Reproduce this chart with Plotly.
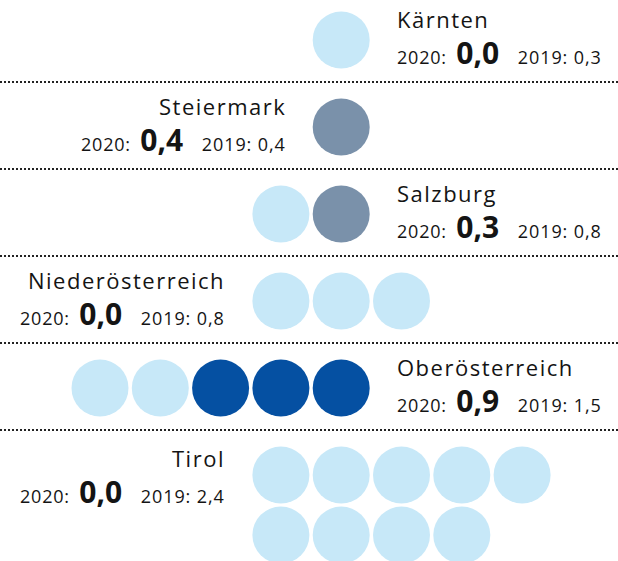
import plotly.graph_objects as go

# Regions and their rates
regions = ["Kärnten", "Steiermark", "Salzburg", "Niederösterreich", "Oberösterreich", "Tirol"]
value_2020 = [0.0, 0.4, 0.3, 0.0, 0.9, 0.0]
value_2019 = [0.3, 0.4, 0.8, 0.8, 1.5, 2.4]

# Number of dots per region and category
dots_light = [1, 0, 1, 3, 2, 9]
dots_grey = [0, 1, 1, 0, 0, 0]
dots_dark = [0, 0, 0, 0, 3, 0]

# Which side of the dots the label sits on
label_side = ["right", "left", "right", "left", "right", "left"]

# ---- layout constants (pixels) ----
W, H = 618, 561
ROW_TOP0 = -5
ROW_PITCH = 87
COL0 = 100.0
COL_PITCH = 60.3
DOT_D = 57
SUB_ROW = 60
PER_ROW = 5
GAP = 25

COLORS = {"light": "#C7E8F8", "grey": "#7A91AA", "dark": "#0550A2"}
TEXT = "#141414"
FONT = "Open Sans"


def fmt(v):
    return f"{v:.1f}".replace(".", ",")


fig = go.Figure()
annotations = []
shapes = []

for i, name in enumerate(regions):
    top = ROW_TOP0 + ROW_PITCH * i
    kinds = ["light"] * dots_light[i] + ["grey"] * dots_grey[i] + ["dark"] * dots_dark[i]
    n = len(kinds)
    first_row = min(n, PER_ROW)
    if label_side[i] == "right":
        start = 4 - first_row + 1
    else:
        start = 4 if n == 1 else 3
    xs, ys, cs = [], [], []
    for k, kind in enumerate(kinds):
        r, c = divmod(k, PER_ROW)
        xs.append(COL0 + COL_PITCH * (start + c))
        ys.append(top + 45 + SUB_ROW * r)
        cs.append(COLORS[kind])
    fig.add_trace(go.Scatter(
        x=xs, y=ys, mode="markers",
        marker=dict(size=DOT_D, color=cs, line=dict(width=0)),
        hoverinfo="skip", showlegend=False,
    ))

    nrows = (n - 1) // PER_ROW + 1
    shift = 4 if nrows > 1 else 0
    if label_side[i] == "right":
        tx = COL0 + COL_PITCH * 4 + DOT_D / 2 + GAP
        anchor = "left"
    else:
        tx = COL0 + COL_PITCH * start - DOT_D / 2 - GAP
        anchor = "right"

    annotations.append(dict(
        x=tx, y=top + 24 + shift, xref="x", yref="y",
        xanchor=anchor, yanchor="middle", showarrow=False,
        text=f'<span style="letter-spacing:1.5px">{name}</span>',
        font=dict(family=FONT, size=22, color=TEXT),
    ))
    value_text = (
        '<span style="letter-spacing:0.8px">2020:</span>\u00a0\u00a0'
        f'<b><span style="font-size:30px">{fmt(value_2020[i])}</span></b>\u00a0\u00a0\u00a0\u00a0'
        f'<span style="letter-spacing:0.9px">2019:\u00a0{fmt(value_2019[i])}</span>'
    )
    annotations.append(dict(
        x=tx, y=top + 57 + shift, xref="x", yref="y",
        xanchor=anchor, yanchor="middle", showarrow=False,
        text=value_text,
        font=dict(family=FONT, size=18, color=TEXT),
    ))

    if i > 0:
        shapes.append(dict(
            type="line", xref="x", yref="y", x0=0, x1=W, y0=top, y1=top,
            line=dict(color="#222222", width=2, dash="2px,2px"), layer="below",
        ))

fig.update_layout(
    width=W, height=H,
    margin=dict(l=0, r=0, t=0, b=0),
    paper_bgcolor="white", plot_bgcolor="white",
    xaxis=dict(range=[0, W], visible=False, fixedrange=True),
    yaxis=dict(range=[H, 0], visible=False, fixedrange=True),
    annotations=annotations,
    shapes=shapes,
    font=dict(family=FONT),
)

fig.write_html("out.html", config={"displayModeBar": False})
